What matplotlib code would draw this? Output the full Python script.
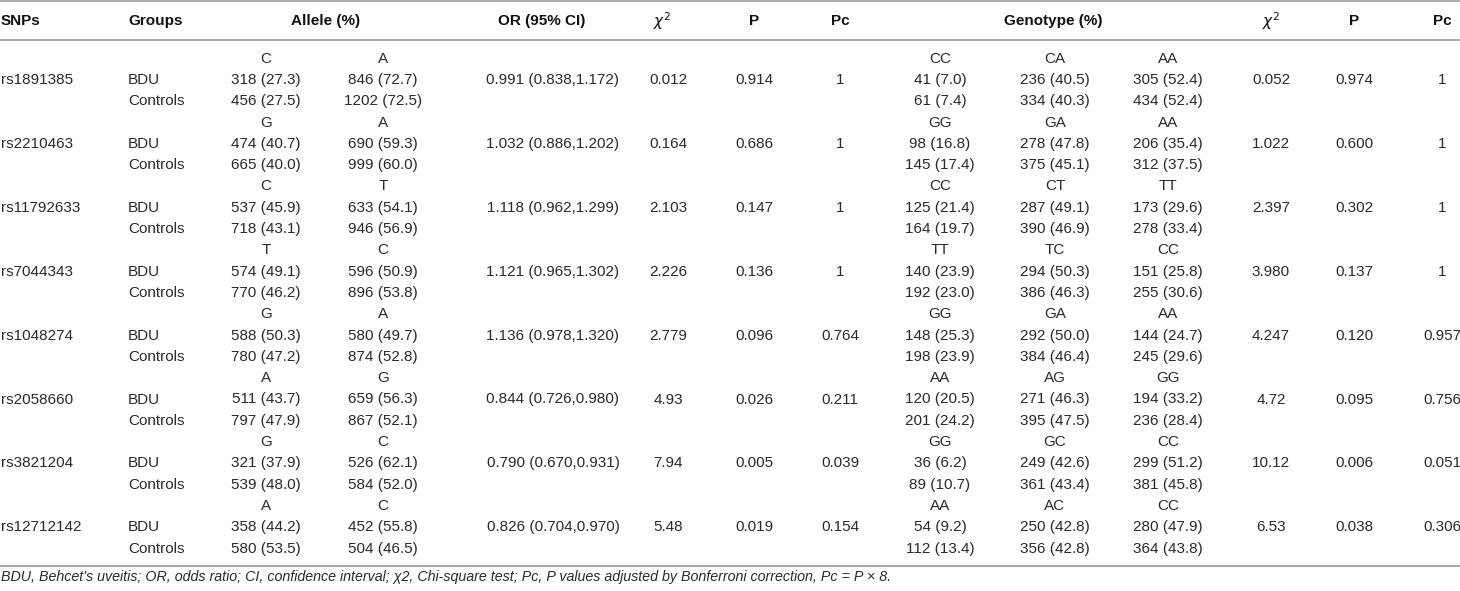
import matplotlib.pyplot as plt

snps = ["rs1891385", "rs2210463", "rs11792633", "rs7044343",
        "rs1048274", "rs2058660", "rs3821204", "rs12712142"]
groups = ["BDU", "Controls"]

allele_labels = [("C", "A"), ("G", "A"), ("C", "T"), ("T", "C"),
                 ("G", "A"), ("A", "G"), ("G", "C"), ("A", "C")]
allele_bdu = [("318 (27.3)", "846 (72.7)"), ("474 (40.7)", "690 (59.3)"),
              ("537 (45.9)", "633 (54.1)"), ("574 (49.1)", "596 (50.9)"),
              ("588 (50.3)", "580 (49.7)"), ("511 (43.7)", "659 (56.3)"),
              ("321 (37.9)", "526 (62.1)"), ("358 (44.2)", "452 (55.8)")]
allele_ctrl = [("456 (27.5)", "1202 (72.5)"), ("665 (40.0)", "999 (60.0)"),
               ("718 (43.1)", "946 (56.9)"), ("770 (46.2)", "896 (53.8)"),
               ("780 (47.2)", "874 (52.8)"), ("797 (47.9)", "867 (52.1)"),
               ("539 (48.0)", "584 (52.0)"), ("580 (53.5)", "504 (46.5)")]
odds_ratio = ["0.991 (0.838,1.172)", "1.032 (0.886,1.202)", "1.118 (0.962,1.299)",
              "1.121 (0.965,1.302)", "1.136 (0.978,1.320)", "0.844 (0.726,0.980)",
              "0.790 (0.670,0.931)", "0.826 (0.704,0.970)"]
chi2_allele = ["0.012", "0.164", "2.103", "2.226", "2.779", "4.93", "7.94", "5.48"]
p_allele = ["0.914", "0.686", "0.147", "0.136", "0.096", "0.026", "0.005", "0.019"]
pc_allele = ["1", "1", "1", "1", "0.764", "0.211", "0.039", "0.154"]

geno_labels = [("CC", "CA", "AA"), ("GG", "GA", "AA"), ("CC", "CT", "TT"),
               ("TT", "TC", "CC"), ("GG", "GA", "AA"), ("AA", "AG", "GG"),
               ("GG", "GC", "CC"), ("AA", "AC", "CC")]
geno_bdu = [("41 (7.0)", "236 (40.5)", "305 (52.4)"),
            ("98 (16.8)", "278 (47.8)", "206 (35.4)"),
            ("125 (21.4)", "287 (49.1)", "173 (29.6)"),
            ("140 (23.9)", "294 (50.3)", "151 (25.8)"),
            ("148 (25.3)", "292 (50.0)", "144 (24.7)"),
            ("120 (20.5)", "271 (46.3)", "194 (33.2)"),
            ("36 (6.2)", "249 (42.6)", "299 (51.2)"),
            ("54 (9.2)", "250 (42.8)", "280 (47.9)")]
geno_ctrl = [("61 (7.4)", "334 (40.3)", "434 (52.4)"),
             ("145 (17.4)", "375 (45.1)", "312 (37.5)"),
             ("164 (19.7)", "390 (46.9)", "278 (33.4)"),
             ("192 (23.0)", "386 (46.3)", "255 (30.6)"),
             ("198 (23.9)", "384 (46.4)", "245 (29.6)"),
             ("201 (24.2)", "395 (47.5)", "236 (28.4)"),
             ("89 (10.7)", "361 (43.4)", "381 (45.8)"),
             ("112 (13.4)", "356 (42.8)", "364 (43.8)")]
chi2_geno = ["0.052", "1.022", "2.397", "3.980", "4.247", "4.72", "10.12", "6.53"]
p_geno = ["0.974", "0.600", "0.302", "0.137", "0.120", "0.095", "0.006", "0.038"]
pc_geno = ["1", "1", "1", "1", "0.957", "0.756", "0.051", "0.306"]

footnote = ("BDU, Behcet's uveitis; OR, odds ratio; CI, confidence interval; χ2, "
            "Chi-square test; Pc, P values adjusted by Bonferroni correction, Pc = P × 8.")

plt.rcParams['font.family'] = ['Liberation Sans', 'DejaVu Sans']

fig = plt.figure(figsize=(14.6, 5.91), dpi=100)
ax = fig.add_axes([0, 0, 1, 1])
ax.set_xlim(0, 1460)
ax.set_ylim(591, 0)
ax.axis('off')

fs = 11
txt = dict(fontsize=fs, color='#2a2a2a', va='center')
head = dict(fontsize=fs, color='#111111', va='center', fontweight='bold')

# column positions (pixels)
x_snp, x_grp = 1, 128
x_al = (266, 383)
x_or, x_chi, x_p, x_pc = 553, 668, 754, 840
x_ge = (940, 1055, 1168)
x_chi2, x_p2, x_pc2 = 1271, 1354, 1442

# rules
line_kw = dict(color='#9a9a9a', lw=1.2)
ax.axhline(1, **line_kw)
ax.axhline(40, **line_kw)
ax.axhline(566, **line_kw)

# header
y_h = 21
ax.text(x_snp, y_h, "SNPs", ha='left', **head)
ax.text(x_grp, y_h, "Groups", ha='left', **head)
ax.text(326, y_h, "Allele (%)", ha='center', **head)
ax.text(542, y_h, "OR (95% CI)", ha='center', **head)
ax.text(662, y_h, r"$\chi^2$", ha='center', fontsize=fs, color='#111111', va='center')
ax.text(x_p, y_h, "P", ha='center', **head)
ax.text(x_pc, y_h, "Pc", ha='center', **head)
ax.text(1053, y_h, "Genotype (%)", ha='center', **head)
ax.text(x_chi2, y_h, r"$\chi^2$", ha='center', fontsize=fs, color='#111111', va='center')
ax.text(x_p2, y_h, "P", ha='center', **head)
ax.text(x_pc2, y_h, "Pc", ha='center', **head)

block = 63.9
step = block / 3
for i, snp in enumerate(snps):
    y0 = 58.7 + block * i
    y1 = y0 + step
    y2 = y0 + 2 * step
    ax.text(x_snp, y1, snp, ha='left', **txt)
    ax.text(x_grp, y1, groups[0], ha='left', **txt)
    ax.text(x_grp, y2, groups[1], ha='left', **txt)
    for k in range(2):
        ax.text(x_al[k], y0, allele_labels[i][k], ha='center', **txt)
        ax.text(x_al[k], y1, allele_bdu[i][k], ha='center', **txt)
        ax.text(x_al[k], y2, allele_ctrl[i][k], ha='center', **txt)
    ax.text(x_or, y1, odds_ratio[i], ha='center', **txt)
    ax.text(x_chi, y1, chi2_allele[i], ha='center', **txt)
    ax.text(x_p, y1, p_allele[i], ha='center', **txt)
    ax.text(x_pc, y1, pc_allele[i], ha='center', **txt)
    for k in range(3):
        ax.text(x_ge[k], y0, geno_labels[i][k], ha='center', **txt)
        ax.text(x_ge[k], y1, geno_bdu[i][k], ha='center', **txt)
        ax.text(x_ge[k], y2, geno_ctrl[i][k], ha='center', **txt)
    ax.text(x_chi2, y1, chi2_geno[i], ha='center', **txt)
    ax.text(x_p2, y1, p_geno[i], ha='center', **txt)
    ax.text(x_pc2, y1, pc_geno[i], ha='center', **txt)

ax.text(1, 577, footnote, ha='left', va='center', fontsize=10.3, style='italic', color='#2a2a2a')

fig.savefig("out.png", dpi=100)
